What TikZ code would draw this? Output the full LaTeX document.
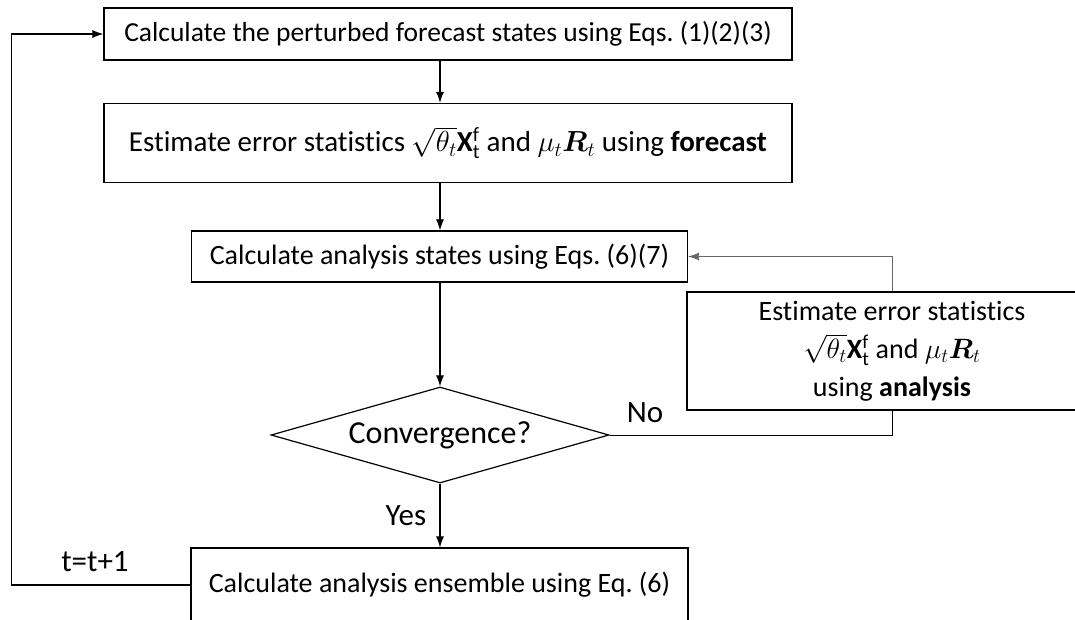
\RequirePackage{fix-cm}
\documentclass[tikz,border=0pt]{standalone}
\usepackage{amsmath,amssymb,bm}
\usepackage{fontspec}
\setmainfont{Carlito}[Ligatures=NoCommon]
\usepackage{tikz}
\usetikzlibrary{shapes.geometric,arrows.meta}

\begin{document}
\begin{tikzpicture}[x=1pt,y=-1pt,
  box/.style={draw,line width=1.2pt,inner sep=0pt,font=\fontsize{28}{38}\selectfont},
  arr/.style={line width=1.1pt,-{Latex[length=11pt,width=8pt]}},
  lbl/.style={font=\fontsize{31}{34}\selectfont}]
\useasboundingbox (0,0) rectangle (1075,619);
\node[box,minimum width=688pt,minimum height=52pt,font=\fontsize{27.5}{30}\selectfont] (calc) at (448,34) {Calculate the perturbed forecast states using Eqs.~(1)(2)(3)};
\node[box,minimum width=688pt,minimum height=79pt,font=\fontsize{29}{32}\selectfont] (est) at (448,143) {Estimate error statistics $\sqrt{\theta_t}\mathbf{X}_\mathrm{t}^\mathrm{f}$ and $\mu_t\bm{R}_t$ using \textbf{forecast}};
\node[box,minimum width=496pt,minimum height=51pt] (ana) at (439.5,256.5) {Calculate analysis states using Eqs.~(6)(7)};
\node[box,diamond,aspect=3.5,minimum width=338pt,minimum height=96pt,font=\fontsize{32}{34}\selectfont] (conv) at (440,435) {Convergence?};
\node[box,align=center,minimum width=410pt,minimum height=118pt] (reest) at (892,351) {Estimate error statistics\\ $\sqrt{\theta_t}\mathbf{X}_\mathrm{t}^\mathrm{f}$ and $\mu_t\bm{R}_t$\\ using \textbf{analysis}};
\node[box,minimum width=497pt,minimum height=74pt] (ens) at (439.5,585) {Calculate analysis ensemble using Eq.~(6)};
% labels
\node[lbl] (no) at (645,413) {No};
\node[lbl] (tinc) at (95,562) {t=t+1};
% arrows
\draw[arr] (calc.south -| conv) -- (est.north -| conv);
\draw[arr] (est.south -| conv) -- (ana.north -| conv);
\draw[arr] (ana.south -| conv) -- (conv.north);
\draw[arr] (conv.south) -- node[lbl,left=10pt] (yes) {Yes} (ens.north -| conv);
\draw[line width=1pt] (conv.east) -- (conv.east -| reest) -- (reest.south);
\draw[arr,line width=0.8pt,black!60] (reest.north) |- (ana.east);
\draw[arr] (ens.west) -- ++(-179,0) |- (calc.west);
\end{tikzpicture}
\end{document}
